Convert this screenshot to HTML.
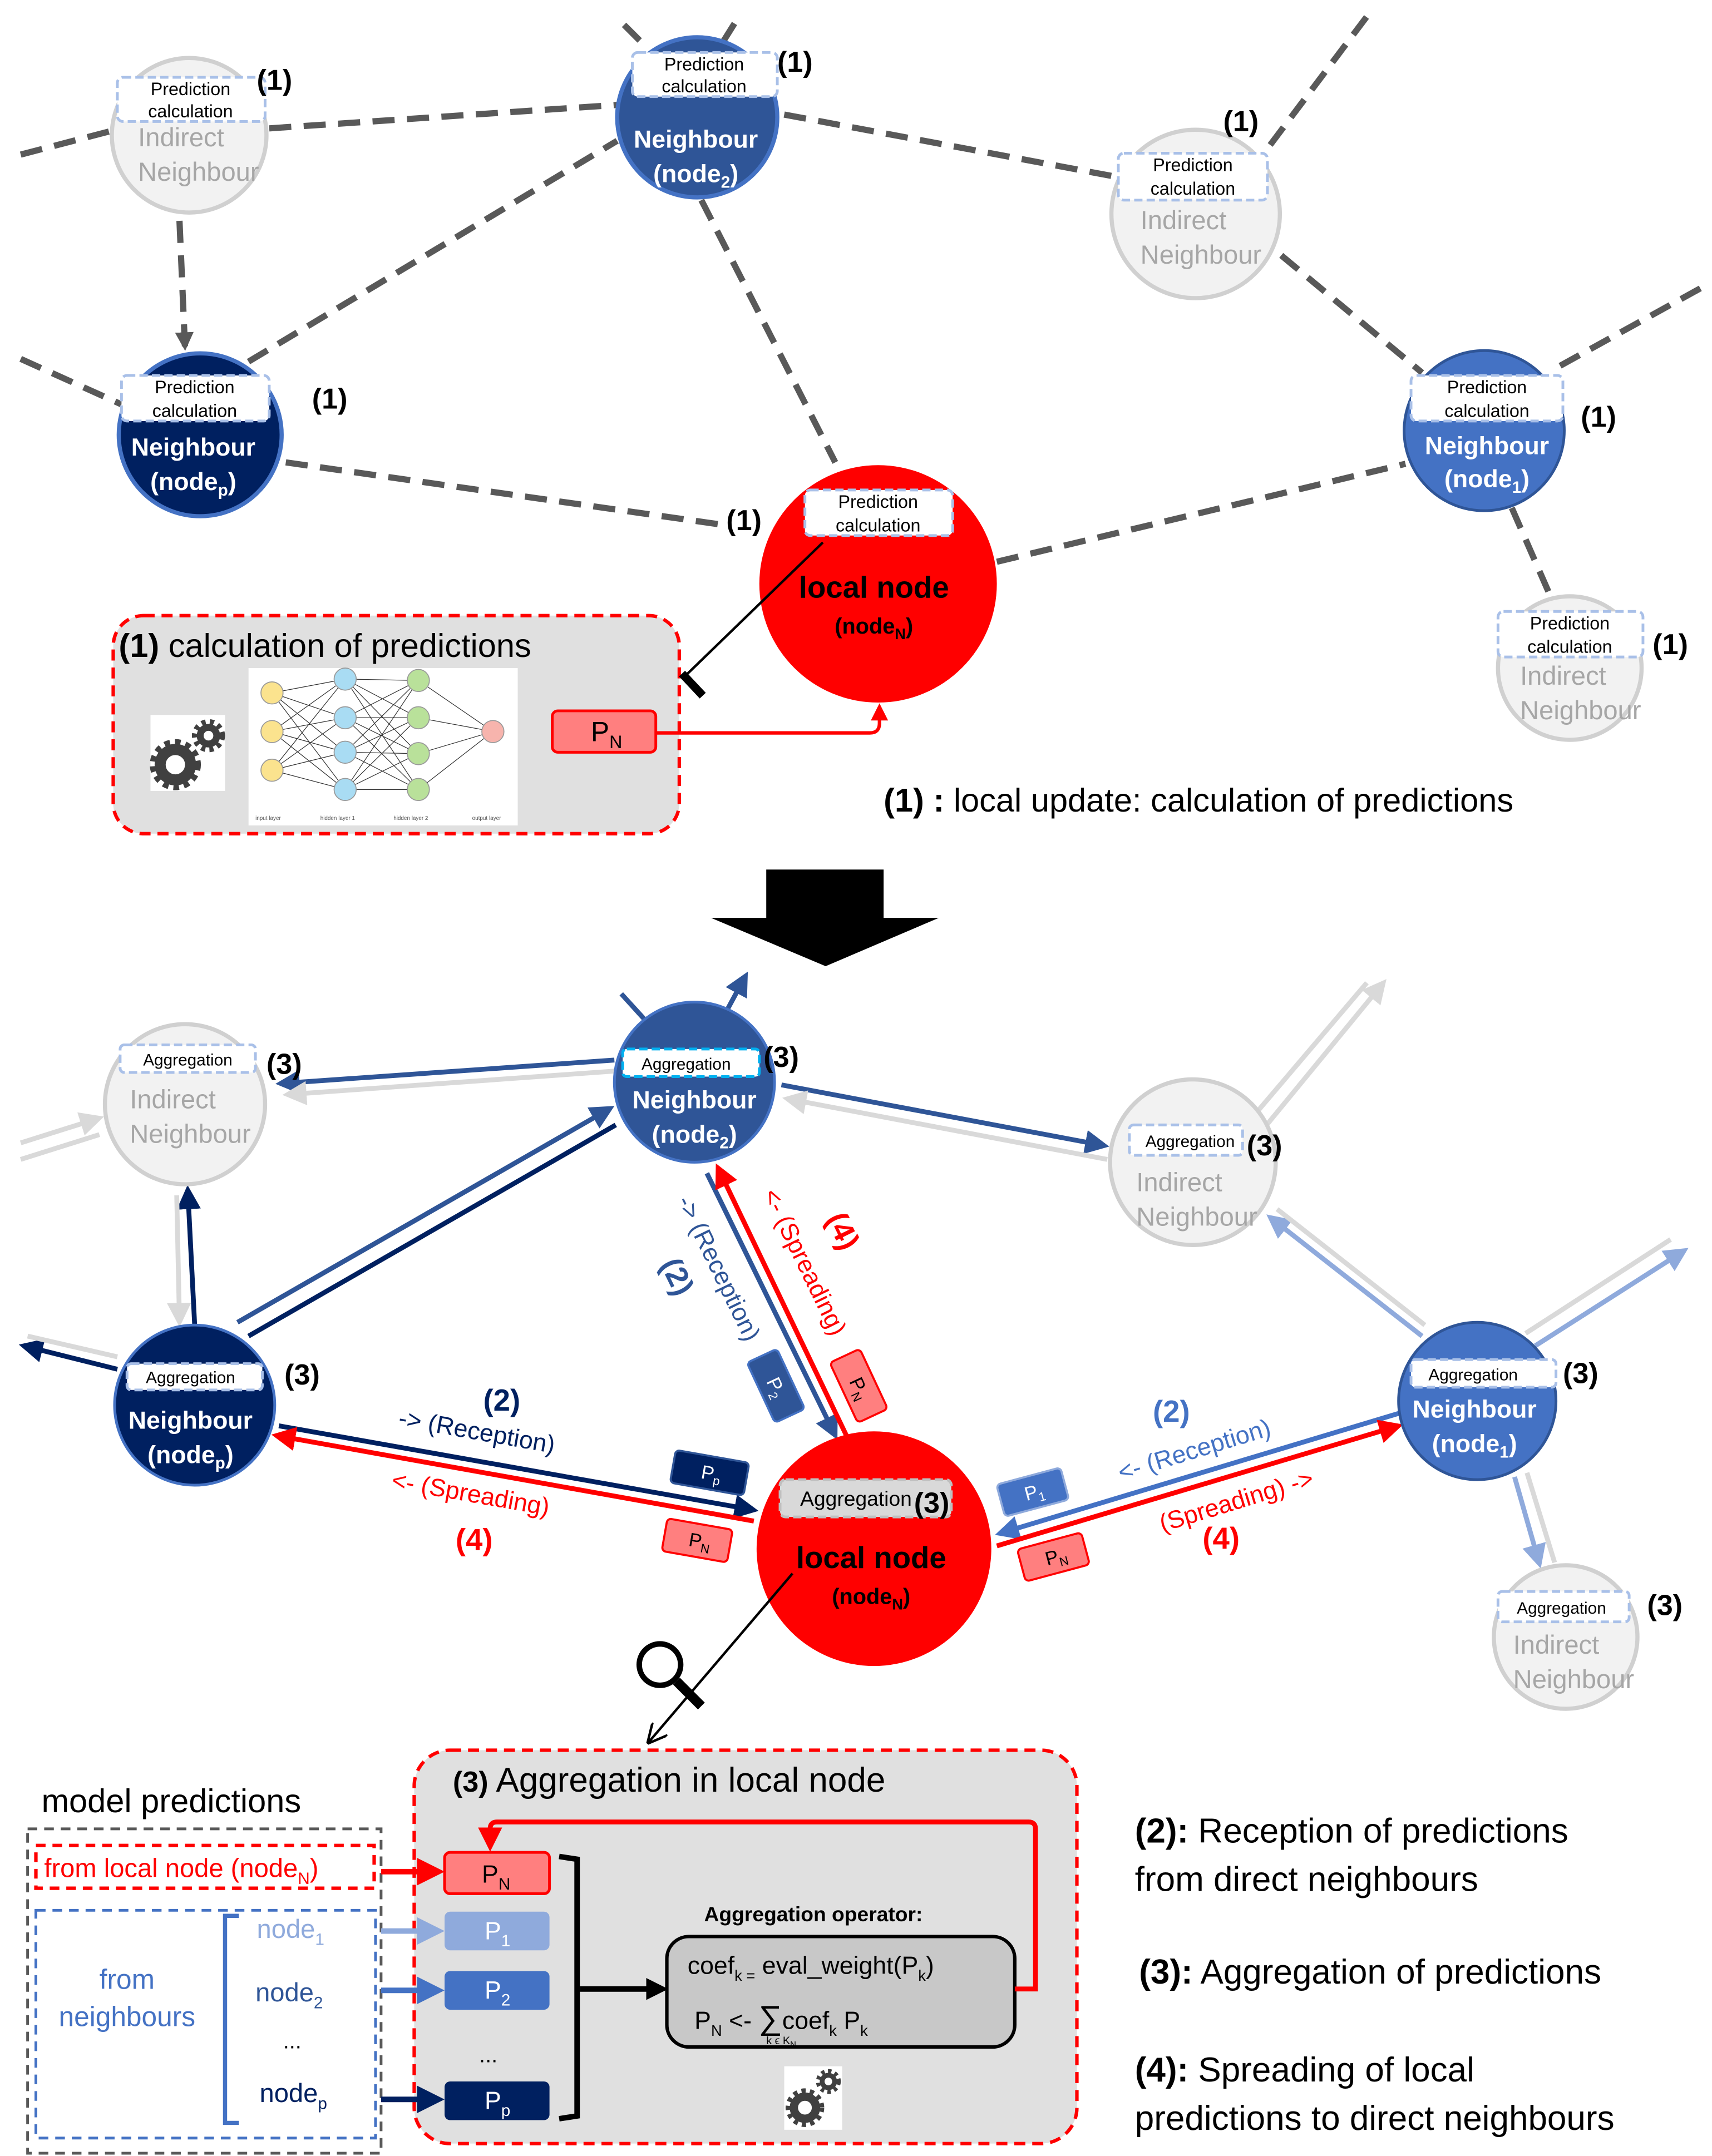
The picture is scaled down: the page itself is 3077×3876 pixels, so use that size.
<!DOCTYPE html>
<html><head><meta charset="utf-8"><style>
html,body{margin:0;padding:0;background:#fff;}
svg{display:block;font-family:"Liberation Sans","DejaVu Sans",sans-serif;}
</style></head><body>
<svg width="3077" height="3876" viewBox="0 0 1240 1562" preserveAspectRatio="none" xmlns="http://www.w3.org/2000/svg">
<defs>
<marker id="ag" markerWidth="3" markerHeight="3" refX="2.5" refY="1.5" orient="auto" markerUnits="strokeWidth"><path d="M0,0 L3,1.5 L0,3z" fill="#595959"/></marker>
<marker id="ar" markerWidth="5" markerHeight="5" refX="4" refY="2.5" orient="auto" markerUnits="strokeWidth"><path d="M0,0 L5,2.5 L0,5z" fill="#ff0000"/></marker>
<marker id="an" markerWidth="5" markerHeight="5" refX="4" refY="2.5" orient="auto" markerUnits="strokeWidth"><path d="M0,0 L5,2.5 L0,5z" fill="#002060"/></marker>
<marker id="am" markerWidth="5" markerHeight="5" refX="4" refY="2.5" orient="auto" markerUnits="strokeWidth"><path d="M0,0 L5,2.5 L0,5z" fill="#2F5597"/></marker>
<marker id="ab" markerWidth="5" markerHeight="5" refX="4" refY="2.5" orient="auto" markerUnits="strokeWidth"><path d="M0,0 L5,2.5 L0,5z" fill="#4472C4"/></marker>
<marker id="al" markerWidth="5" markerHeight="5" refX="4" refY="2.5" orient="auto" markerUnits="strokeWidth"><path d="M0,0 L5,2.5 L0,5z" fill="#8FAADC"/></marker>
<marker id="aw" markerWidth="5" markerHeight="5" refX="4" refY="2.5" orient="auto" markerUnits="strokeWidth"><path d="M0,0 L5,2.5 L0,5z" fill="#d9d9d9"/></marker>
<marker id="ak" markerWidth="8" markerHeight="8" refX="7" refY="4" orient="auto" markerUnits="strokeWidth"><path d="M0,0 L8,4 L0,8" fill="none" stroke="#000" stroke-width="1"/></marker>
<marker id="akf" markerWidth="4" markerHeight="4" refX="3" refY="2" orient="auto" markerUnits="strokeWidth"><path d="M0,0 L4,2 L0,4z" fill="#000"/></marker>
</defs>

<g stroke="#595959" stroke-width="4.5" stroke-dasharray="16 9" fill="none">
<line x1="15" y1="112" x2="80" y2="95"/>
<line x1="195" y1="93" x2="447" y2="76"/>
<line x1="568" y1="83" x2="808" y2="128"/>
<line x1="452" y1="18" x2="468" y2="34"/>
<line x1="532" y1="17" x2="522" y2="33"/>
<line x1="920" y1="105" x2="990" y2="12"/>
<line x1="180" y1="262" x2="447" y2="102" />
<line x1="15" y1="260" x2="88" y2="293"/>
<line x1="207" y1="335" x2="522" y2="380"/>
<line x1="508" y1="145" x2="605" y2="335"/>
<line x1="928" y1="185" x2="1030" y2="270"/>
<line x1="1130" y1="265" x2="1235" y2="207"/>
<line x1="722" y1="407" x2="1018" y2="336"/>
<line x1="1095" y1="368" x2="1123" y2="432"/>
<line x1="130" y1="160" x2="134" y2="252" marker-end="url(#ag)"/>
</g>

<g>
<circle cx="137" cy="98" r="56" fill="#f2f2f2" stroke="#d0d0d0" stroke-width="3"/>
<circle cx="505" cy="85" r="58" fill="#2F5597" stroke="#4472C4" stroke-width="3"/>
<circle cx="866" cy="155" r="61" fill="#f2f2f2" stroke="#d0d0d0" stroke-width="3"/>
<circle cx="145" cy="315" r="59" fill="#002060" stroke="#4472C4" stroke-width="3"/>
<circle cx="1075" cy="312" r="58" fill="#4472C4" stroke="#2F5597" stroke-width="2"/>
<circle cx="636" cy="423" r="86" fill="#ff0000"/>
<circle cx="1137" cy="484" r="52" fill="#f2f2f2" stroke="#d0d0d0" stroke-width="3"/>
</g>
<g fill="#a6a6a6" font-size="19">
<text x="100" y="106">Indirect</text><text x="100" y="131">Neighbour</text>
<text x="826" y="166">Indirect</text><text x="826" y="191">Neighbour</text>
<text x="1101" y="496">Indirect</text><text x="1101" y="521">Neighbour</text>
</g>
<g fill="#fff" font-size="18" font-weight="bold" text-anchor="middle">
<text x="504" y="107">Neighbour</text><text x="504" y="132">(node<tspan font-size="12" dy="4">2</tspan><tspan dy="-4">)</tspan></text>
<text x="140" y="330">Neighbour</text><text x="140" y="355">(node<tspan font-size="12" dy="4">p</tspan><tspan dy="-4">)</tspan></text>
<text x="1077" y="329">Neighbour</text><text x="1077" y="353">(node<tspan font-size="12" dy="4">1</tspan><tspan dy="-4">)</tspan></text>
</g>
<g fill="#000" font-weight="bold" text-anchor="middle">
<text x="633" y="433" font-size="22">local node</text>
<text x="633" y="459" font-size="16">(node<tspan font-size="11" dy="4">N</tspan><tspan dy="-4">)</tspan></text>
</g>
<g fill="#fff" stroke="#a9c0e8" stroke-width="2" stroke-dasharray="6 3">
<rect x="85" y="56" width="107" height="32" rx="4"/>
<rect x="458" y="38" width="105" height="32" rx="4"/>
<rect x="810" y="111" width="108" height="34" rx="4"/>
<rect x="88" y="272" width="107" height="33" rx="4"/>
<rect x="1022" y="272" width="110" height="33" rx="4"/>
<rect x="583" y="355" width="107" height="33" rx="4"/>
<rect x="1085" y="443" width="105" height="33" rx="4"/>
</g>
<g font-size="13" text-anchor="middle" fill="#000">
<text x="138" y="69">Prediction</text><text x="138" y="85">calculation</text>
<text x="510" y="51">Prediction</text><text x="510" y="67">calculation</text>
<text x="864" y="124">Prediction</text><text x="864" y="141">calculation</text>
<text x="141" y="285">Prediction</text><text x="141" y="302">calculation</text>
<text x="1077" y="285">Prediction</text><text x="1077" y="302">calculation</text>
<text x="636" y="368">Prediction</text><text x="636" y="385">calculation</text>
<text x="1137" y="456">Prediction</text><text x="1137" y="473">calculation</text>
</g>
<g font-size="21" font-weight="bold" fill="#000">
<text x="186" y="65">(1)</text><text x="563" y="52">(1)</text><text x="886" y="95">(1)</text>
<text x="226" y="296">(1)</text><text x="1145" y="309">(1)</text><text x="526" y="384">(1)</text>
<text x="1197" y="474">(1)</text>
</g>

<rect x="82" y="446" width="410" height="158" rx="22" fill="#e0e0e0" stroke="#ff0000" stroke-width="2.5" stroke-dasharray="8 5"/>
<text x="86" y="476" font-size="24" fill="#000"><tspan font-weight="bold">(1)</tspan> calculation of predictions</text>
<rect x="180" y="484" width="195" height="114" fill="#fff"/>
<g stroke="#333" stroke-width="0.5">
<path d="M197,502 L250,492 M197,502 L250,520 M197,502 L250,545 M197,502 L250,572 M197,530 L250,492 M197,530 L250,520 M197,530 L250,545 M197,530 L250,572 M197,558 L250,492 M197,558 L250,520 M197,558 L250,545 M197,558 L250,572"/>
<path d="M250,492 L303,493 M250,492 L303,520 M250,492 L303,546 M250,492 L303,572 M250,520 L303,493 M250,520 L303,520 M250,520 L303,546 M250,520 L303,572 M250,545 L303,493 M250,545 L303,520 M250,545 L303,546 M250,545 L303,572 M250,572 L303,493 M250,572 L303,520 M250,572 L303,546 M250,572 L303,572"/>
<path d="M303,493 L357,530 M303,520 L357,530 M303,546 L357,530 M303,572 L357,530"/>
</g>
<g stroke="#999" stroke-width="0.7">
<circle cx="197" cy="502" r="8" fill="#fbe38e"/><circle cx="197" cy="530" r="8" fill="#fbe38e"/><circle cx="197" cy="558" r="8" fill="#fbe38e"/>
<circle cx="250" cy="492" r="8" fill="#a9dcf3"/><circle cx="250" cy="520" r="8" fill="#a9dcf3"/><circle cx="250" cy="545" r="8" fill="#a9dcf3"/><circle cx="250" cy="572" r="8" fill="#a9dcf3"/>
<circle cx="303" cy="493" r="8" fill="#b9e19a"/><circle cx="303" cy="520" r="8" fill="#b9e19a"/><circle cx="303" cy="546" r="8" fill="#b9e19a"/><circle cx="303" cy="572" r="8" fill="#b9e19a"/>
<circle cx="357" cy="530" r="8" fill="#f7b4ad"/>
</g>
<g font-size="4" fill="#555"><text x="185" y="594">input layer</text><text x="232" y="594">hidden layer 1</text><text x="285" y="594">hidden layer 2</text><text x="342" y="594">output layer</text></g>
<rect x="109" y="518" width="54" height="55" fill="#fff"/>
<g fill="none" stroke="#404040">
<circle cx="127" cy="554" r="11" stroke-width="8"/><circle cx="127" cy="554" r="16" stroke-width="5" stroke-dasharray="4 3.5"/>
<circle cx="151" cy="533" r="6" stroke-width="5"/><circle cx="151" cy="533" r="10" stroke-width="4" stroke-dasharray="3 3"/>
</g>
<rect x="400" y="515" width="75" height="30" rx="4" fill="#ff7f7f" stroke="#ff0000" stroke-width="2"/>
<text x="428" y="537" font-size="20">P<tspan font-size="13" dy="5">N</tspan></text>
<path d="M475,531 L630,531 Q637,531 637,524 L637,512" fill="none" stroke="#ff0000" stroke-width="2.5" marker-end="url(#ar)"/>
<line x1="596" y1="393" x2="496" y2="490" stroke="#000" stroke-width="1.8"/>
<line x1="494" y1="488" x2="509" y2="504" stroke="#000" stroke-width="6"/>
<text x="640" y="588" font-size="24" fill="#000"><tspan font-weight="bold">(1) :</tspan> local update: calculation of predictions</text>

<path d="M555,630 L640,630 L640,665 L680,665 L598,700 L515,665 L555,665z" fill="#000"/>

<g fill="none" stroke-width="3.5">
<line x1="445" y1="768" x2="203" y2="785" stroke="#2F5597" marker-end="url(#am)"/>
<line x1="445" y1="776" x2="208" y2="793" stroke="#d9d9d9" marker-end="url(#aw)"/>
<line x1="566" y1="786" x2="800" y2="830" stroke="#2F5597" marker-end="url(#am)"/>
<line x1="802" y1="840" x2="570" y2="796" stroke="#d9d9d9" marker-end="url(#aw)"/>
<line x1="905" y1="812" x2="990" y2="712" stroke="#d9d9d9"/>
<line x1="915" y1="818" x2="1002" y2="712" stroke="#d9d9d9" marker-end="url(#aw)"/>
<line x1="15" y1="828" x2="72" y2="810" stroke="#d9d9d9" marker-end="url(#aw)"/>
<line x1="15" y1="840" x2="72" y2="822" stroke="#d9d9d9"/>
<line x1="141" y1="960" x2="136" y2="862" stroke="#002060" marker-end="url(#an)"/>
<line x1="128" y1="866" x2="130" y2="958" stroke="#d9d9d9" marker-end="url(#aw)"/>
<line x1="172" y1="958" x2="442" y2="803" stroke="#2F5597" marker-end="url(#am)"/>
<line x1="180" y1="968" x2="446" y2="815" stroke="#002060"/>
<line x1="85" y1="992" x2="17" y2="975" stroke="#002060" marker-end="url(#an)"/>
<line x1="20" y1="968" x2="85" y2="983" stroke="#d9d9d9"/>
<line x1="450" y1="720" x2="470" y2="742" stroke="#2F5597"/>
<line x1="520" y1="744" x2="540" y2="707" stroke="#2F5597" marker-end="url(#am)"/>
<line x1="512" y1="850" x2="605" y2="1040" stroke="#2F5597" marker-end="url(#am)"/>
<line x1="614" y1="1042" x2="520" y2="846" stroke="#ff0000" marker-end="url(#ar)"/>
<line x1="202" y1="1033" x2="546" y2="1094" stroke="#002060" marker-end="url(#an)"/>
<line x1="546" y1="1102" x2="200" y2="1040" stroke="#ff0000" marker-end="url(#ar)"/>
<line x1="1013" y1="1024" x2="724" y2="1111" stroke="#4472C4" marker-end="url(#ab)"/>
<line x1="722" y1="1120" x2="1013" y2="1033" stroke="#ff0000" marker-end="url(#ar)"/>
<line x1="1030" y1="968" x2="920" y2="882" stroke="#8FAADC" marker-end="url(#al)"/>
<line x1="925" y1="876" x2="1032" y2="960" stroke="#d9d9d9"/>
<line x1="1112" y1="975" x2="1220" y2="906" stroke="#8FAADC" marker-end="url(#al)"/>
<line x1="1105" y1="966" x2="1210" y2="898" stroke="#d9d9d9"/>
<line x1="1097" y1="1070" x2="1115" y2="1133" stroke="#8FAADC" marker-end="url(#al)"/>
<line x1="1106" y1="1067" x2="1126" y2="1132" stroke="#d9d9d9"/>
</g>

<circle cx="134" cy="800" r="58" fill="#f2f2f2" stroke="#d0d0d0" stroke-width="3"/>
<circle cx="503" cy="784" r="58" fill="#2F5597" stroke="#4472C4" stroke-width="2"/>
<circle cx="864" cy="842" r="60" fill="#f2f2f2" stroke="#d0d0d0" stroke-width="3"/>
<circle cx="141" cy="1018" r="58" fill="#002060" stroke="#4472C4" stroke-width="2"/>
<circle cx="1070" cy="1015" r="57" fill="#4472C4" stroke="#2F5597" stroke-width="2"/>
<circle cx="633" cy="1122" r="85" fill="#ff0000"/>
<circle cx="1134" cy="1186" r="52" fill="#f2f2f2" stroke="#d0d0d0" stroke-width="3"/>
<g fill="#a6a6a6" font-size="19">
<text x="94" y="803">Indirect</text><text x="94" y="828">Neighbour</text>
<text x="823" y="863">Indirect</text><text x="823" y="888">Neighbour</text>
<text x="1096" y="1198">Indirect</text><text x="1096" y="1223">Neighbour</text>
</g>
<g fill="#fff" font-size="18" font-weight="bold" text-anchor="middle">
<text x="503" y="803">Neighbour</text><text x="503" y="828">(node<tspan font-size="12" dy="4">2</tspan><tspan dy="-4">)</tspan></text>
<text x="138" y="1035">Neighbour</text><text x="138" y="1060">(node<tspan font-size="12" dy="4">p</tspan><tspan dy="-4">)</tspan></text>
<text x="1068" y="1027">Neighbour</text><text x="1068" y="1052">(node<tspan font-size="12" dy="4">1</tspan><tspan dy="-4">)</tspan></text>
</g>
<g fill="#000" font-weight="bold" text-anchor="middle">
<text x="631" y="1136" font-size="22">local node</text>
<text x="631" y="1162" font-size="16">(node<tspan font-size="11" dy="4">N</tspan><tspan dy="-4">)</tspan></text>
</g>
<g fill="#fff" stroke="#a9c0e8" stroke-width="2" stroke-dasharray="6 3">
<rect x="87" y="757" width="98" height="20" rx="3"/>
<rect x="451" y="760" width="99" height="20" rx="3" stroke="#00b0f0"/>
<rect x="818" y="815" width="82" height="22" rx="3"/>
<rect x="92" y="988" width="98" height="19" rx="3"/>
<rect x="1022" y="985" width="105" height="20" rx="3"/>
<rect x="565" y="1072" width="124" height="27" rx="4" fill="#d9d9d9" stroke="#bfbfbf"/>
<rect x="1085" y="1153" width="95" height="22" rx="3"/>
</g>
<g font-size="12" text-anchor="middle" fill="#000">
<text x="136" y="772">Aggregation</text><text x="497" y="775">Aggregation</text>
<text x="862" y="831">Aggregation</text><text x="138" y="1002">Aggregation</text>
<text x="1067" y="1000">Aggregation</text><text x="1131" y="1169">Aggregation</text>
<text x="620" y="1091" font-size="15">Aggregation</text>
</g>
<g font-size="21" font-weight="bold" fill="#000">
<text x="193" y="778">(3)</text><text x="553" y="773">(3)</text><text x="903" y="837">(3)</text>
<text x="206" y="1003">(3)</text><text x="1132" y="1002">(3)</text><text x="662" y="1096">(3)</text>
<text x="1193" y="1170">(3)</text>
</g>

<g font-size="18">
<text transform="translate(490,870) rotate(64)" fill="#2F5597">-&gt; (Reception)</text>
<text transform="translate(478,916) rotate(64)" fill="#2F5597" font-weight="bold" font-size="22">(2)</text>
<text transform="translate(552,865) rotate(64)" fill="#ff0000">&lt;- (Spreading)</text>
<text transform="translate(598,883) rotate(64)" fill="#ff0000" font-weight="bold" font-size="22">(4)</text>
<text transform="translate(288,1033) rotate(10)" fill="#002060">-&gt; (Reception)</text>
<text x="350" y="1022" fill="#002060" font-weight="bold" font-size="22">(2)</text>
<text transform="translate(283,1078) rotate(10)" fill="#ff0000">&lt;- (Spreading)</text>
<text x="330" y="1123" fill="#ff0000" font-weight="bold" font-size="22">(4)</text>
<text transform="translate(812,1073) rotate(-17)" fill="#4472C4">&lt;- (Reception)</text>
<text x="835" y="1030" fill="#4472C4" font-weight="bold" font-size="22">(2)</text>
<text transform="translate(842,1110) rotate(-17)" fill="#ff0000">(Spreading) -&gt;</text>
<text x="871" y="1122" fill="#ff0000" font-weight="bold" font-size="22">(4)</text>
</g>
<g font-size="14">
<g transform="translate(514,1067) rotate(10)"><rect x="-27" y="-12" width="54" height="24" rx="3" fill="#002060" stroke="#2F5597" stroke-width="1.5"/><text x="-6" y="5" fill="#fff">P<tspan font-size="9" dy="3">p</tspan></text></g>
<g transform="translate(505,1116) rotate(10)"><rect x="-24" y="-12" width="48" height="24" rx="3" fill="#ff7f7f" stroke="#ff0000" stroke-width="1.5"/><text x="-6" y="5" fill="#000">P<tspan font-size="9" dy="3">N</tspan></text></g>
<g transform="translate(562,1004) rotate(65)"><rect x="-24" y="-12" width="48" height="24" rx="3" fill="#2F5597" stroke="#4472C4" stroke-width="1.5"/><text x="-6" y="5" fill="#fff">P<tspan font-size="9" dy="3">2</tspan></text></g>
<g transform="translate(622,1004) rotate(65)"><rect x="-24" y="-12" width="48" height="24" rx="3" fill="#ff7f7f" stroke="#ff0000" stroke-width="1.5"/><text x="-6" y="5" fill="#000">P<tspan font-size="9" dy="3">N</tspan></text></g>
<g transform="translate(748,1081) rotate(-15)"><rect x="-24" y="-12" width="48" height="24" rx="3" fill="#4472C4" stroke="#8FAADC" stroke-width="1.5"/><text x="-6" y="5" fill="#fff">P<tspan font-size="9" dy="3">1</tspan></text></g>
<g transform="translate(763,1128) rotate(-15)"><rect x="-24" y="-12" width="48" height="24" rx="3" fill="#ff7f7f" stroke="#ff0000" stroke-width="1.5"/><text x="-6" y="5" fill="#000">P<tspan font-size="9" dy="3">N</tspan></text></g>
</g>
<line x1="574" y1="1140" x2="470" y2="1262" stroke="#000" stroke-width="1.8" marker-end="url(#ak)"/>
<circle cx="478" cy="1206" r="15" fill="none" stroke="#000" stroke-width="4"/>
<line x1="490" y1="1218" x2="508" y2="1236" stroke="#000" stroke-width="7"/>

<text x="30" y="1313" font-size="24" fill="#000">model predictions</text>
<rect x="20" y="1325" width="256" height="235" fill="none" stroke="#595959" stroke-width="2" stroke-dasharray="7 5"/>
<rect x="26" y="1337" width="245" height="31" fill="none" stroke="#ff0000" stroke-width="2.5" stroke-dasharray="7 5"/>
<text x="32" y="1360" font-size="19" fill="#ff0000">from local node (node<tspan font-size="12" dy="5">N</tspan><tspan dy="-5">)</tspan></text>
<rect x="26" y="1384" width="246" height="165" fill="none" stroke="#4472C4" stroke-width="2" stroke-dasharray="7 5"/>
<text x="92" y="1441" font-size="20" fill="#4472C4" text-anchor="middle">from</text>
<text x="92" y="1468" font-size="20" fill="#4472C4" text-anchor="middle">neighbours</text>
<path d="M173,1388 L163,1388 L163,1538 L173,1538" fill="none" stroke="#4472C4" stroke-width="3"/>
<text x="186" y="1404" font-size="19" fill="#8FAADC">node<tspan font-size="12" dy="5">1</tspan></text>
<text x="185" y="1450" font-size="19" fill="#2F5597">node<tspan font-size="12" dy="5">2</tspan></text>
<text x="205" y="1484" font-size="16" fill="#000">...</text>
<text x="188" y="1523" font-size="19" fill="#002060">node<tspan font-size="12" dy="5">p</tspan></text>

<rect x="300" y="1268" width="480" height="285" rx="26" fill="#e0e0e0" stroke="#ff0000" stroke-width="2.5" stroke-dasharray="8 5"/>
<text x="328" y="1298" font-size="25" fill="#000"><tspan font-weight="bold" font-size="21">(3)</tspan>  Aggregation  in local node</text>
<g fill="none" stroke-width="4">
<line x1="276" y1="1356" x2="318" y2="1356" stroke="#ff0000" marker-end="url(#ar)"/>
<line x1="276" y1="1399" x2="318" y2="1399" stroke="#8FAADC" marker-end="url(#al)"/>
<line x1="276" y1="1442" x2="318" y2="1442" stroke="#4472C4" marker-end="url(#ab)"/>
<line x1="276" y1="1521" x2="318" y2="1521" stroke="#002060" marker-end="url(#an)"/>
</g>
<rect x="322" y="1342" width="76" height="30" rx="4" fill="#ff7f7f" stroke="#ff0000" stroke-width="2"/>
<rect x="322" y="1385" width="76" height="28" rx="4" fill="#8FAADC"/>
<rect x="322" y="1428" width="76" height="28" rx="4" fill="#4472C4"/>
<rect x="322" y="1508" width="76" height="28" rx="4" fill="#002060"/>
<g font-size="18">
<text x="349" y="1364" fill="#000">P<tspan font-size="12" dy="5">N</tspan></text>
<text x="351" y="1405" fill="#fff">P<tspan font-size="12" dy="5">1</tspan></text>
<text x="351" y="1448" fill="#fff">P<tspan font-size="12" dy="5">2</tspan></text>
<text x="351" y="1528" fill="#fff">P<tspan font-size="12" dy="5">p</tspan></text>
</g>
<text x="347" y="1494" font-size="16" fill="#000">...</text>
<path d="M405,1345 L418,1347 L418,1533 L405,1535" fill="none" stroke="#000" stroke-width="4"/>
<line x1="420" y1="1441" x2="480" y2="1441" stroke="#000" stroke-width="4" marker-end="url(#akf)"/>
<text x="510" y="1392" font-size="15" font-weight="bold" fill="#000">Aggregation operator:</text>
<rect x="483" y="1403" width="252" height="80" rx="16" fill="#c8c8c8" stroke="#000" stroke-width="2.5"/>
<text x="498" y="1430" font-size="18" fill="#000">coef<tspan font-size="11" dy="5">k =</tspan><tspan dy="-5"> eval_weight(P</tspan><tspan font-size="11" dy="5">k</tspan><tspan dy="-5">)</tspan></text>
<text x="503" y="1470" font-size="18" fill="#000">P<tspan font-size="11" dy="5">N</tspan><tspan dy="-5"> &lt;- </tspan><tspan font-size="24">∑</tspan><tspan>coef</tspan><tspan font-size="11" dy="5">k</tspan><tspan dy="-5"> P</tspan><tspan font-size="11" dy="5">k</tspan></text>
<text x="555" y="1481" font-size="8" fill="#000">k ϵ K<tspan font-size="6" dy="2">N</tspan></text>
<path d="M735,1441 L750,1441 L750,1325 Q750,1320 745,1320 L360,1320 Q355,1320 355,1325 L355,1338" fill="none" stroke="#ff0000" stroke-width="3.5" marker-end="url(#ar)"/>
<rect x="568" y="1497" width="42" height="46" fill="#fff"/>
<g fill="none" stroke="#404040">
<circle cx="583" cy="1527" r="8" stroke-width="6"/><circle cx="583" cy="1527" r="12" stroke-width="4" stroke-dasharray="3 3"/>
<circle cx="600" cy="1508" r="4.5" stroke-width="3.5"/><circle cx="600" cy="1508" r="7.5" stroke-width="3" stroke-dasharray="2.5 2.5"/>
</g>

<g font-size="25" fill="#000">
<text x="822" y="1335"><tspan font-weight="bold">(2):</tspan> Reception of predictions</text>
<text x="822" y="1370">from direct neighbours</text>
<text x="825" y="1437"><tspan font-weight="bold">(3):</tspan> Aggregation of predictions</text>
<text x="822" y="1508"><tspan font-weight="bold">(4):</tspan> Spreading of local</text>
<text x="822" y="1543">predictions to direct neighbours</text>
</g>
</svg>
</body></html>
